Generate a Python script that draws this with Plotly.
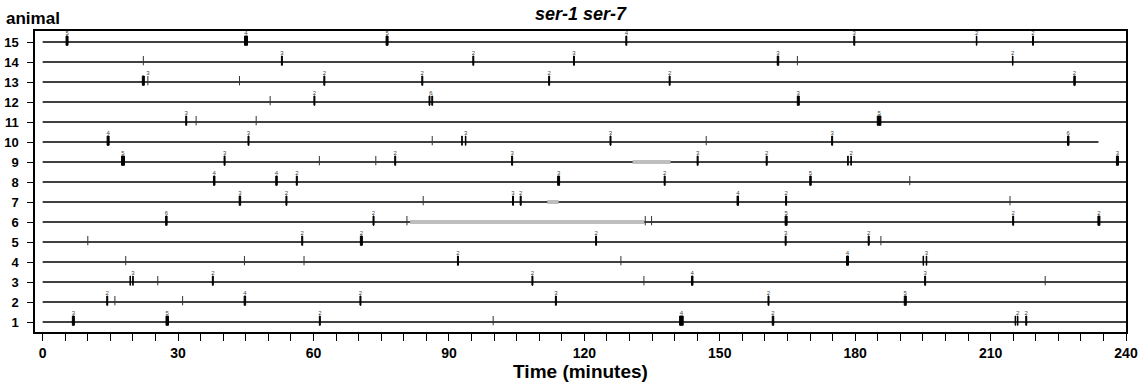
import plotly.graph_objects as go

# ---------------- data (times in minutes) ----------------
animals = list(range(1, 16))
# end of each animal's recording track (animal 1..15)
track_end = [240, 240, 240, 240, 240, 240, 240, 240, 240, 233.9, 240, 240, 240, 240, 240]

# clustered bouts: animal -> list of (centre time, duration)
bouts = {
    15: [(5.4, 0.44), (45.05, 0.66), (76.3, 0.44), (129.3, 0.22), (179.8, 0.22), (206.9, 0.12), (219.4, 0.22)],
    14: [(53.0, 0.22), (95.4, 0.22), (117.7, 0.22), (162.9, 0.33), (214.9, 0.12)],
    13: [(22.3, 0.44), (62.4, 0.22), (84.1, 0.22), (112.2, 0.22), (138.9, 0.22), (228.6, 0.33)],
    12: [(60.2, 0.22), (85.7, 0.2), (86.3, 0.2), (167.4, 0.44)],
    11: [(31.8, 0.22), (185.3, 0.8)],
    10: [(14.5, 0.44), (45.6, 0.22), (92.9, 0.12), (93.7, 0.12), (125.8, 0.22), (174.9, 0.22), (227.2, 0.33)],
    9: [(17.8, 0.66), (40.3, 0.22), (78.1, 0.22), (104.0, 0.22), (145.1, 0.22), (160.4, 0.22),
        (178.4, 0.12), (179.1, 0.12), (238.1, 0.44)],
    8: [(38.0, 0.33), (51.8, 0.33), (56.3, 0.22), (114.3, 0.44), (137.8, 0.22), (170.1, 0.33)],
    7: [(43.7, 0.33), (54.0, 0.22), (104.2, 0.22), (105.9, 0.22), (154.0, 0.33), (164.7, 0.22)],
    6: [(27.4, 0.33), (73.3, 0.22), (164.7, 0.44), (215.0, 0.22), (234.0, 0.44)],
    5: [(57.5, 0.22), (70.6, 0.44), (122.6, 0.22), (164.6, 0.22), (183.0, 0.22)],
    4: [(92.0, 0.22), (178.3, 0.44), (195.1, 0.12), (195.8, 0.12)],
    3: [(19.4, 0.12), (20.0, 0.12), (37.7, 0.22), (108.5, 0.22), (143.9, 0.33), (195.5, 0.22)],
    2: [(14.3, 0.22), (44.8, 0.33), (70.4, 0.22), (113.7, 0.22), (160.8, 0.22), (191.1, 0.44)],
    1: [(6.8, 0.44), (27.6, 0.55), (61.4, 0.22), (141.5, 0.8), (161.8, 0.33), (215.5, 0.12),
        (216.0, 0.12), (217.9, 0.22)],
}

# single events: animal -> list of times
single_events = {
    15: [], 14: [22.3, 167.2], 13: [23.3, 43.6], 12: [50.4], 11: [34.0, 47.3],
    10: [86.3, 147.0], 9: [61.3, 73.8], 8: [192.1], 7: [84.3, 214.3],
    6: [80.7, 133.5, 134.9], 5: [10.0, 185.7], 4: [18.4, 44.7, 57.9, 128.1],
    3: [25.5, 133.2, 222.1], 2: [16.0, 31.0], 1: [99.8],
}

# number of events in each cluster: animal -> list of (time, count)
cluster_counts = {
    15: [(5.4, 5), (45.05, 4), (76.3, 5), (129.3, 4), (179.8, 3), (206.9, 2), (219.4, 2)],
    14: [(53.0, 3), (95.4, 2), (117.7, 3), (162.9, 3), (214.9, 2)],
    13: [(23.3, 3), (62.4, 2), (84.1, 2), (112.2, 2), (138.9, 2), (228.6, 2)],
    12: [(60.2, 2), (86.0, 6), (167.4, 3)],
    11: [(31.8, 3), (185.3, 5)],
    10: [(14.5, 4), (45.6, 3), (93.7, 3), (125.8, 3), (174.9, 3), (227.2, 6)],
    9: [(17.8, 5), (40.3, 3), (78.1, 2), (104.0, 3), (145.1, 3), (160.4, 2), (179.1, 2), (238.1, 3)],
    8: [(38.0, 4), (51.8, 4), (56.3, 2), (114.3, 3), (137.8, 2), (170.1, 5)],
    7: [(43.7, 3), (54.0, 2), (104.2, 3), (105.9, 2), (154.0, 4), (164.7, 2)],
    6: [(27.4, 6), (73.3, 2), (164.7, 5), (215.0, 2), (234.0, 2)],
    5: [(57.5, 2), (70.6, 2), (122.6, 2), (164.6, 3), (183.0, 2)],
    4: [(92.0, 2), (178.3, 4), (195.8, 3)],
    3: [(20.0, 3), (37.7, 2), (108.5, 2), (143.9, 4), (195.5, 3)],
    2: [(14.3, 2), (44.8, 4), (70.4, 2), (113.7, 3), (160.8, 2), (191.1, 5)],
    1: [(6.8, 3), (27.6, 5), (61.4, 2), (141.5, 4), (161.8, 2), (216.0, 2), (217.9, 2)],
}

# grey periods: (animal, start, end)
grey_periods = [(9, 130.7, 139.1), (7, 111.8, 114.3), (6, 81.4, 133.3)]

x_ticks = [0, 30, 60, 90, 120, 150, 180, 210, 240]

# ---------------- geometry (row units) ----------------
TOP, BOT, LAB = 0.30, -0.165, 0.43

fig = go.Figure()

bx, by = [], []
for a, end in zip(animals, track_end):
    bx += [0, end, None]
    by += [a, a, None]
fig.add_trace(go.Scatter(x=bx, y=by, mode="lines", line=dict(color="black", width=1.4),
                         hoverinfo="skip", showlegend=False))

gx, gy = [], []
for a, s, e in grey_periods:
    gx += [s, e, None]
    gy += [a, a, None]
fig.add_trace(go.Scatter(x=gx, y=gy, mode="lines", line=dict(color="#BEBEBE", width=4),
                         hoverinfo="skip", showlegend=False))

sx, sy = [], []
for a, times in single_events.items():
    for t in times:
        sx += [t, t, None]
        sy += [a + BOT, a + TOP, None]
fig.add_trace(go.Scatter(x=sx, y=sy, mode="lines", line=dict(color="#333333", width=1),
                         hoverinfo="skip", showlegend=False))

px, py = [], []
for a, items in bouts.items():
    for c, d in items:
        x0, x1 = c - d / 2, c + d / 2
        px += [x0, x1, x1, x0, x0, None]
        py += [a + BOT, a + BOT, a + TOP, a + TOP, a + BOT, None]
fig.add_trace(go.Scatter(x=px, y=py, mode="lines", fill="toself", fillcolor="black",
                         line=dict(color="black", width=1), hoverinfo="skip", showlegend=False))

lx, ly, lt = [], [], []
for a, items in cluster_counts.items():
    for t, n in items:
        lx.append(t)
        ly.append(a + LAB)
        lt.append(str(n))
fig.add_trace(go.Scatter(x=lx, y=ly, mode="text", text=lt,
                         textfont=dict(size=6, color="#444444", family="Arial, Liberation Sans"),
                         hoverinfo="skip", showlegend=False))

FONT = "Arial, Liberation Sans, sans-serif"
fig.update_layout(
    width=1145, height=385,
    margin=dict(l=35, r=19, t=31, b=53, autoexpand=False),
    paper_bgcolor="white", plot_bgcolor="white",
    font=dict(family=FONT, color="black"),
    title=dict(text="ser-1 ser-7", x=0.5, xref="paper", xanchor="center",
               y=1 - 14 / 385, yref="container", yanchor="middle",
               font=dict(size=18, weight="bold", style="italic", family=FONT)),
    xaxis=dict(range=[-1.7, 240], tickvals=x_ticks, ticks="outside", ticklen=7, tickwidth=1.2,
               tickcolor="black", minor=dict(dtick=5, tick0=0, ticks="outside", ticklen=7,
                                             tickwidth=1.2, tickcolor="black"),
               showline=True, linecolor="black", linewidth=1.5, mirror=True,
               showgrid=False, zeroline=False, automargin=False,
               tickfont=dict(size=14, weight="bold"),
               title=dict(text="Time (minutes)", font=dict(size=19, weight="bold"), standoff=3)),
    yaxis=dict(range=[0.5, 15.55], tickvals=animals, ticks="outside", ticklen=6, tickwidth=1.2,
               tickcolor="black", showline=True, linecolor="black", linewidth=1.5, mirror=True,
               showgrid=False, zeroline=False, ticklabelstandoff=6, automargin=False,
               tickfont=dict(size=13, weight="bold")),
    annotations=[dict(text="animal", xref="paper", yref="paper", x=-31 / 1091, y=1 + 12 / 301,
                      xanchor="left", yanchor="middle", showarrow=False,
                      font=dict(size=17, weight="bold", family=FONT))],
)

fig.write_html("out.html")
